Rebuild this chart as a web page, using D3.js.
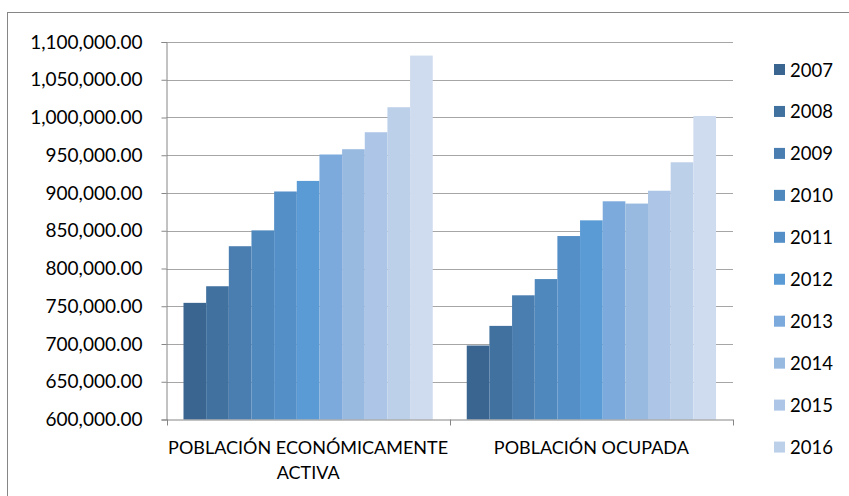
<!DOCTYPE html>
<html>
<head>
<meta charset="utf-8">
<script src="https://cdn.jsdelivr.net/npm/d3@7"></script>
<style>
  html, body { margin: 0; padding: 0; background: #fff; }
  svg text { font-family: Lato, "Open Sans", sans-serif; fill: #000; }
</style>
</head>
<body>
<svg id="chart" width="849" height="496"></svg>
<script>
// Categories on the x axis
const categories = ["POBLACIÓN ECONÓMICAMENTE ACTIVA", "POBLACIÓN OCUPADA"];
// One series per year
const years = ["2007", "2008", "2009", "2010", "2011", "2012", "2013", "2014", "2015", "2016", "2017"];
// Values per year: [económicamente activa, ocupada]
const activa  = [754500, 776500, 829500, 850500, 902000, 916000, 951000, 958000, 980500, 1013600, 1082000];
const ocupada = [698000, 724000, 764500, 786000, 843000, 863800, 889000, 886000, 903000, 940700, 1002000];
const seriesColors = ["#3b6591", "#41719f", "#4a7db0", "#4f88bd", "#548fc8", "#5b9bd5",
                      "#7caadc", "#98b9e0", "#adc5e6", "#bdd0ea", "#cfdcf0"];
// Y axis ticks
const yTicks = [600000, 650000, 700000, 750000, 800000, 850000, 900000, 950000, 1000000, 1050000, 1100000];

const svg = d3.select("#chart");
const W = 849, H = 496;
const plot = { left: 166.5, right: 733, top: 42, bottom: 419.5 };

// Chart frame
svg.append("rect")
  .attr("x", 7.5).attr("y", 12.5)
  .attr("width", W + 10).attr("height", H + 10)
  .attr("fill", "#fff").attr("stroke", "#868686").attr("stroke-width", 1);

const y = d3.scaleLinear().domain([600000, 1100000]).range([plot.bottom, plot.top]);
const x0 = d3.scaleBand().domain(categories).range([plot.left, plot.right]).paddingInner(0);
// Excel-style gap width 150% on a cluster of 11 bars
const gap = 1.5;
const barW = x0.bandwidth() / (years.length + gap);
const x1 = d3.scaleBand().domain(years)
  .range([barW * gap / 2, x0.bandwidth() - barW * gap / 2]).padding(0);

// Gridlines
svg.append("g").selectAll("line").data(yTicks.slice(1)).join("line")
  .attr("x1", plot.left).attr("x2", plot.right)
  .attr("y1", d => Math.round(y(d)) + 0.5).attr("y2", d => Math.round(y(d)) + 0.5)
  .attr("stroke", "#a6a6a6").attr("stroke-width", 1.2);

// Bars
const table = categories.map((c, i) => ({
  cat: c,
  vals: years.map((yr, j) => ({ year: yr, value: (i === 0 ? activa : ocupada)[j], color: seriesColors[j] }))
}));
svg.append("g").selectAll("g").data(table).join("g")
  .attr("transform", d => `translate(${x0(d.cat)},0)`)
  .selectAll("rect").data(d => d.vals).join("rect")
  .attr("x", d => x1(d.year))
  .attr("width", x1.bandwidth())
  .attr("y", d => y(d.value))
  .attr("height", d => y(600000) - y(d.value))
  .attr("fill", d => d.color);

// Y axis
const yAxis = d3.axisLeft(y).tickValues(yTicks).tickSize(5).tickPadding(19)
  .tickFormat(d3.format(",.2f"));
const gy = svg.append("g").attr("transform", `translate(${plot.left},0)`).call(yAxis);
gy.select(".domain").attr("stroke", "#868686");
gy.selectAll(".tick line").attr("stroke", "#868686");
gy.selectAll(".tick text").attr("font-size", "19px").attr("font-family", "Lato, sans-serif").attr("fill", "#000");

// X axis line with category boundary ticks
const xg = svg.append("g");
xg.append("line").attr("x1", plot.left).attr("x2", plot.right)
  .attr("y1", plot.bottom + 0.5).attr("y2", plot.bottom + 0.5).attr("stroke", "#868686");
const bounds = [plot.left, ...categories.map(c => x0(c) + x0.bandwidth())];
xg.selectAll("line.b").data(bounds).join("line").attr("class", "b")
  .attr("x1", d => Math.round(d) + 0.5).attr("x2", d => Math.round(d) + 0.5)
  .attr("y1", plot.bottom).attr("y2", plot.bottom + 6).attr("stroke", "#868686");

// Category labels, wrapped to fit the band
function wrapLines(label) {
  return label === categories[0] ? ["POBLACIÓN ECONÓMICAMENTE", "ACTIVA"] : [label];
}
categories.forEach(c => {
  const t = svg.append("text")
    .attr("text-anchor", "middle").attr("font-size", "18px")
    .attr("x", x0(c) + x0.bandwidth() / 2).attr("y", 453.5);
  wrapLines(c).forEach((ln, i) => {
    t.append("tspan").attr("x", x0(c) + x0.bandwidth() / 2).attr("dy", i === 0 ? 0 : 25).text(ln);
  });
});

// Legend: entries that do not fit inside the frame are dropped
const legTop = 69.5, legStep = 41.95, frameBottom = H;
const legendItems = years.map((yr, i) => ({ yr, color: seriesColors[i], cy: legTop + i * legStep }))
  .filter(d => d.cy + 10 < frameBottom - 4);
const lg = svg.append("g").selectAll("g").data(legendItems).join("g")
  .attr("transform", d => `translate(0,${d.cy})`);
lg.append("rect").attr("x", 774).attr("y", -5.5).attr("width", 11).attr("height", 11).attr("fill", d => d.color);
lg.append("text").attr("x", 790).attr("y", 7).attr("font-size", "18.5px").text(d => d.yr);
</script>
</body>
</html>
